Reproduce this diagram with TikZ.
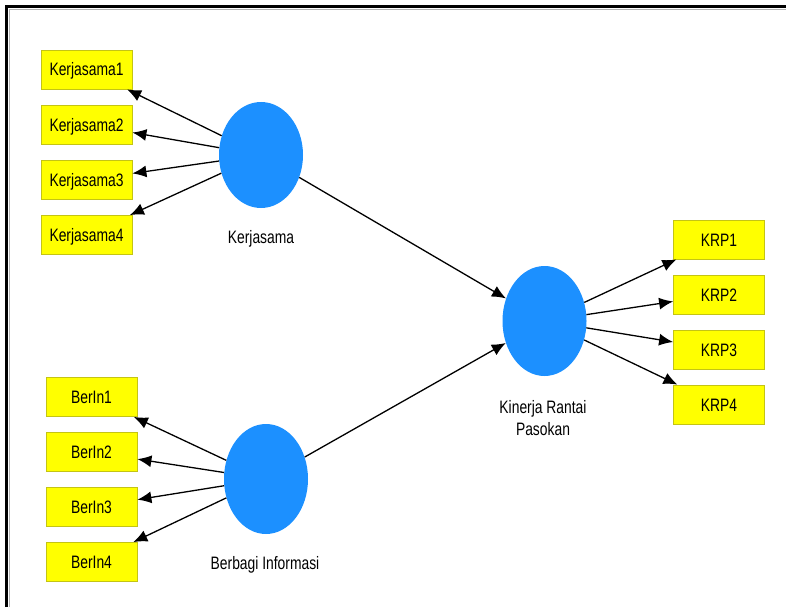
\documentclass[tikz,border=0pt]{standalone}
\usepackage{fontspec}
\setmainfont{Liberation Sans}[FakeStretch=0.77]
\usetikzlibrary{shapes.geometric,positioning,arrows.meta}
\definecolor{plsblue}{RGB}{28,144,255}
\definecolor{plsyellow}{RGB}{255,255,0}
\definecolor{plsedge}{RGB}{196,196,20}

\begin{document}
\begin{tikzpicture}[x=1pt, y=-1pt,
    indicator/.style={draw=plsedge, fill=plsyellow, line width=0.8pt,
        minimum width=91pt, minimum height=39pt, inner sep=0pt,
        text height=13pt, text depth=0pt, font=\fontsize{18}{22}\selectfont},
    construct/.style={ellipse, fill=plsblue, minimum width=84pt,
        minimum height=110pt, inner sep=0pt},
    lbl/.style={inner sep=0pt, align=center, font=\fontsize{18}{22}\selectfont},
    tip/.tip={Latex[length=14pt,width=12pt]},
    loading/.style={-tip, line width=1.3pt, black}]
        \useasboundingbox (0,0) rectangle (786,607);

        % Draw frame
        \draw[gray!60, line width=0.8pt] (9,607) -- (9,9) -- (786,9);
        \draw[line width=3pt] (6.5,607) -- (6.5,6.5) -- (786,6.5);

        % Latent variables
        \node[construct, minimum height=106pt] (kerja) at (261,155) {};
        \node[construct] (berin) at (266,479) {};
        \node[construct] (krp) at (544.5,321) {};

        \node[lbl, anchor=base] (kerjalbl) at (261,243) {Kerjasama};
        \node[lbl, anchor=base] (berinlbl) at (265,569) {Berbagi Informasi};
        \node[lbl, anchor=north] (krplbl) at (543,400) {Kinerja Rantai\\Pasokan};

        % Indicators
        \foreach \i/\y in {1/69.5, 2/124.5, 3/180, 4/235}
            \node[indicator] (kerja\i) at (86.5,\y) {Kerjasama\i};
        \foreach \i/\y in {1/397, 2/452, 3/507, 4/562}
            \node[indicator] (berin\i) at (91.5,\y) {BerIn\i};
        \foreach \i/\y in {1/239.5, 2/294.5, 3/349.5, 4/404.5}
            \node[indicator] (krp\i) at (719,\y) {KRP\i};

        % Outer loadings
        \foreach \i in {1,...,4}
        {
            \draw[loading] (kerja) -- (kerja\i);
            \draw[loading] (berin) -- (berin\i);
            \draw[loading] (krp) -- (krp\i);
        }

        % Inner paths
        \draw[loading] (kerja) -- (krp);
        \draw[loading] (berin) -- (krp);
    \end{tikzpicture}
\end{document}
